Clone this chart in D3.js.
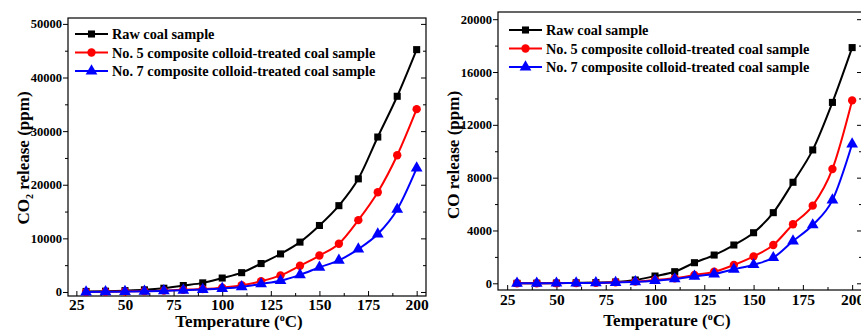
<!DOCTYPE html>
<html>
<head>
<meta charset="utf-8">
<script src="https://cdn.jsdelivr.net/npm/d3@7"></script>
<style>
  body { margin: 0; background: #fff; }
  svg { display: block; font-family: "Liberation Serif", "Times New Roman", serif; font-weight: bold; }
</style>
</head>
<body>
<svg id="chart" width="861" height="330"></svg>
<script>
const temps = [30, 40, 50, 60, 70, 80, 90, 100, 110, 120, 130, 140, 150, 160, 170, 180, 190, 200];

// CO2 release (ppm)
const co2Raw = [100, 150, 250, 400, 700, 1200, 1700, 2600, 3600, 5300, 7100, 9300, 12400, 16100, 21100, 28900, 36500, 45200];
const co2No5 = [0, 50, 100, 150, 250, 400, 550, 800, 1250, 2000, 3100, 4900, 6800, 9000, 13400, 18600, 25500, 34100];
const co2No7 = [0, 30, 80, 120, 200, 300, 450, 650, 950, 1500, 2100, 3200, 4600, 5900, 8000, 10800, 15400, 23100];

// CO release (ppm)
const coRaw = [0, 10, 20, 40, 60, 100, 250, 550, 880, 1560, 2140, 2900, 3830, 5350, 7650, 10100, 13700, 17850];
const coNo5 = [0, 5, 10, 20, 30, 80, 130, 250, 380, 630, 880, 1390, 2040, 2900, 4470, 5880, 8660, 13850];
const coNo7 = [0, 5, 10, 20, 30, 60, 110, 200, 330, 530, 700, 1060, 1410, 1940, 3200, 4420, 6300, 10550];

const seriesNames = ["Raw coal sample", "No. 5 composite colloid-treated coal sample", "No. 7 composite colloid-treated coal sample"];
const seriesColors = ["#000000", "#ff0000", "#0000ff"];
const seriesMarkers = [d3.symbolSquare, d3.symbolCircle, d3.symbolTriangle];
const markerSizes = [50, 55, 60];

const xTicks = [25, 50, 75, 100, 125, 150, 175, 200];
const co2Ticks = [0, 10000, 20000, 30000, 40000, 50000];
const coTicks = [0, 4000, 8000, 12000, 16000, 20000];

const svg = d3.select("#chart");

// drop d3's default axis font so the serif font of the svg applies
function plain(a) {
  a.attr("font-family", null).attr("font-size", null);
  a.select(".domain").remove();
}

function drawPanel(p) {
  const g = svg.append("g");
  const x = d3.scaleLinear().domain(p.xDomain).range([p.left, p.right]);
  const y = d3.scaleLinear().domain(p.yDomain).range([p.bottom, p.top]);

  // frame
  g.append("rect")
    .attr("x", p.left).attr("y", p.top)
    .attr("width", p.right - p.left).attr("height", p.bottom - p.top)
    .attr("fill", "none").attr("stroke", "#000").attr("stroke-width", 1.2);

  // x axis: ticks inward
  const xMinor = d3.range(37.5, p.xDomain[1], 25);
  g.append("g")
    .attr("transform", "translate(0," + p.bottom + ")")
    .call(d3.axisBottom(x).tickValues(xMinor).tickSize(-3).tickFormat(""))
    .call(plain);
  g.append("g")
    .attr("transform", "translate(0," + p.bottom + ")")
    .call(d3.axisBottom(x).tickValues(xTicks).tickSize(-5).tickPadding(p.xPad))
    .call(plain)
    .call(a => a.selectAll("text").attr("font-size", 15.5).attr("dy", "0.71em"));

  // y axis: ticks outward
  const yMinor = p.yTicks.slice(0, -1).map((v, i) => (v + p.yTicks[i + 1]) / 2);
  g.append("g")
    .attr("transform", "translate(" + p.left + ",0)")
    .call(d3.axisLeft(y).tickValues(yMinor).tickSize(3).tickFormat(""))
    .call(plain);
  g.append("g")
    .attr("transform", "translate(" + p.left + ",0)")
    .call(d3.axisLeft(y).tickValues(p.yTicks).tickSize(5).tickPadding(1).tickFormat(d3.format("d")))
    .call(plain)
    .call(a => a.selectAll("text").attr("font-size", 12.5));

  // mirror ticks on right side
  g.append("g")
    .attr("transform", "translate(" + p.right + ",0)")
    .call(d3.axisRight(y).tickValues(p.yTicks).tickSize(-5).tickFormat(""))
    .call(plain);
  g.append("g")
    .attr("transform", "translate(" + p.right + ",0)")
    .call(d3.axisRight(y).tickValues(yMinor).tickSize(-3).tickFormat(""))
    .call(plain);

  // curves
  const line = d3.line().x((d, i) => x(temps[i])).y(d => y(d)).curve(d3.curveMonotoneX);
  p.series.forEach((vals, k) => {
    g.append("path")
      .attr("d", line(vals))
      .attr("fill", "none")
      .attr("stroke", seriesColors[k])
      .attr("stroke-width", 2);
    g.selectAll(null)
      .data(vals)
      .enter().append("path")
      .attr("transform", (d, i) => "translate(" + x(temps[i]) + "," + y(d) + ")")
      .attr("d", d3.symbol().type(seriesMarkers[k]).size(markerSizes[k]))
      .attr("fill", seriesColors[k]);
  });

  // legend
  seriesNames.forEach((name, k) => {
    const ly = p.legendY + k * p.legendGap;
    g.append("line")
      .attr("x1", p.legendX).attr("x2", p.legendX + 33)
      .attr("y1", ly).attr("y2", ly)
      .attr("stroke", seriesColors[k]).attr("stroke-width", 2);
    g.append("path")
      .attr("transform", "translate(" + (p.legendX + 16.5) + "," + ly + ")")
      .attr("d", d3.symbol().type(seriesMarkers[k]).size(markerSizes[k]))
      .attr("fill", seriesColors[k]);
    g.append("text")
      .attr("x", p.legendX + 37).attr("y", ly + 5)
      .attr("font-size", 14.3)
      .text(name);
  });

  // x title
  const xt = g.append("text")
    .attr("x", p.xTitleX).attr("y", p.xTitleY)
    .attr("text-anchor", "middle")
    .attr("font-size", 17);
  xt.append("tspan").text("Temperature (");
  xt.append("tspan").attr("font-size", 10).attr("dy", -6).text("o");
  xt.append("tspan").attr("dy", 6).text("C)");

  // y title
  const yt = g.append("text")
    .attr("transform", "translate(" + p.yTitleX + "," + p.yTitleY + ") rotate(-90)")
    .attr("text-anchor", "middle")
    .attr("font-size", 17);
  if (p.sub) {
    yt.append("tspan").text("CO");
    yt.append("tspan").attr("font-size", 10).attr("dy", 4).text("2");
    yt.append("tspan").attr("dy", -4).text(" release (ppm)");
  } else {
    yt.text("CO release (ppm)");
  }
}

drawPanel({
  left: 68, right: 426, top: 18, bottom: 296,
  xDomain: [20.7, 204.8], yDomain: [-750, 51100],
  yTicks: co2Ticks,
  series: [co2Raw, co2No5, co2No7],
  legendX: 75, legendY: 34, legendGap: 18.5,
  xPad: 3,
  xTitleX: 239, xTitleY: 327,
  yTitleX: 29, yTitleY: 158, sub: true
});

drawPanel({
  left: 498, right: 862, top: 12, bottom: 290,
  xDomain: [20.35, 205], yDomain: [-507, 20545],
  yTicks: coTicks,
  series: [coRaw, coNo5, coNo7],
  legendX: 509, legendY: 30, legendGap: 18.5,
  xPad: 4,
  xTitleX: 667, xTitleY: 326,
  yTitleX: 459, yTitleY: 155, sub: false
});
</script>
</body>
</html>
